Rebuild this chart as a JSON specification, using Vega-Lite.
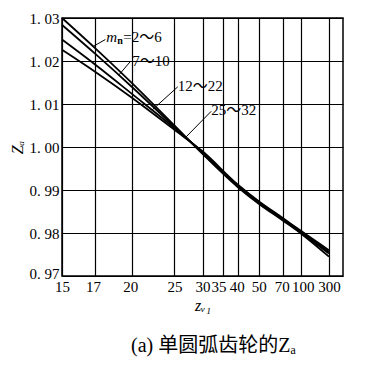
{
  "$schema": "https://vega.github.io/schema/vega-lite/v6.json",
  "width": 281,
  "height": 258,
  "autosize": {"type": "none"},
  "padding": {"left": 62, "top": 18, "right": 25, "bottom": 90},
  "background": "white",
  "config": {
    "view": {"stroke": "black", "strokeWidth": 1.5},
    "font": "Liberation Serif"
  },
  "title": {
    "text": "(a) 单圆弧齿轮的Zₐ",
    "orient": "bottom",
    "anchor": "middle",
    "font": "Liberation Serif, Noto Sans CJK SC",
    "fontSize": 20,
    "fontWeight": "normal",
    "color": "black",
    "offset": 23,
    "dx": 11
  },
  "datasets": {
    "curves": [
      {"series": "2~6", "z": 15, "Za": 1.0300},
      {"series": "2~6", "z": 17, "Za": 1.0230},
      {"series": "2~6", "z": 20, "Za": 1.0148},
      {"series": "2~6", "z": 25, "Za": 1.0050},
      {"series": "2~6", "z": 30, "Za": 0.9984},
      {"series": "2~6", "z": 40, "Za": 0.9907},
      {"series": "2~6", "z": 50, "Za": 0.9868},
      {"series": "2~6", "z": 70, "Za": 0.9829},
      {"series": "2~6", "z": 100, "Za": 0.9799},
      {"series": "2~6", "z": 300, "Za": 0.9745},
      {"series": "7~10", "z": 15, "Za": 1.0284},
      {"series": "7~10", "z": 17, "Za": 1.0217},
      {"series": "7~10", "z": 20, "Za": 1.0139},
      {"series": "7~10", "z": 25, "Za": 1.0047},
      {"series": "7~10", "z": 30, "Za": 0.9986},
      {"series": "7~10", "z": 40, "Za": 0.9909},
      {"series": "7~10", "z": 50, "Za": 0.9870},
      {"series": "7~10", "z": 70, "Za": 0.9831},
      {"series": "7~10", "z": 100, "Za": 0.9801},
      {"series": "7~10", "z": 300, "Za": 0.9752},
      {"series": "12~22", "z": 15, "Za": 1.0250},
      {"series": "12~22", "z": 17, "Za": 1.0192},
      {"series": "12~22", "z": 20, "Za": 1.0123},
      {"series": "12~22", "z": 25, "Za": 1.0044},
      {"series": "12~22", "z": 30, "Za": 0.9988},
      {"series": "12~22", "z": 40, "Za": 0.9911},
      {"series": "12~22", "z": 50, "Za": 0.9872},
      {"series": "12~22", "z": 70, "Za": 0.9833},
      {"series": "12~22", "z": 100, "Za": 0.9803},
      {"series": "12~22", "z": 300, "Za": 0.9756},
      {"series": "25~32", "z": 15, "Za": 1.0226},
      {"series": "25~32", "z": 17, "Za": 1.0175},
      {"series": "25~32", "z": 20, "Za": 1.0114},
      {"series": "25~32", "z": 25, "Za": 1.0040},
      {"series": "25~32", "z": 30, "Za": 0.9990},
      {"series": "25~32", "z": 40, "Za": 0.9913},
      {"series": "25~32", "z": 50, "Za": 0.9874},
      {"series": "25~32", "z": 70, "Za": 0.9835},
      {"series": "25~32", "z": 100, "Za": 0.9805},
      {"series": "25~32", "z": 300, "Za": 0.9760}
    ],
    "labels": [
      {"text": "7～10", "z": 20.0, "Za": 1.0201},
      {"text": "12～22", "z": 25.5, "Za": 1.0143},
      {"text": "25～32", "z": 32.0, "Za": 1.0086}
    ],
    "mlabel": [
      {"m": "m", "n": "n", "rest": "=2～6", "z": 17.8, "Za": 1.0255}
    ],
    "leaders": [
      {"z": 17.74, "Za": 1.0250, "z2": 16.88, "Za2": 1.0234},
      {"z": 19.83, "Za": 1.0199, "z2": 18.79, "Za2": 1.0167},
      {"z": 25.51, "Za": 1.0140, "z2": 22.08, "Za2": 1.0086},
      {"z": 31.98, "Za": 1.0083, "z2": 26.76, "Za2": 1.0022}
    ]
  },
  "encoding": {
    "x": {
      "field": "z",
      "type": "quantitative",
      "scale": {"type": "pow", "exponent": -1, "domain": [15, 1000000], "nice": false, "zero": false},
      "axis": {
        "values": [15, 17, 20, 25, 30, 35, 40, 50, 70, 100, 300],
        "grid": true,
        "gridColor": "black",
        "gridOpacity": 1,
        "gridWidth": 1.2,
        "ticks": false,
        "domain": false,
        "labelFont": "Liberation Serif",
        "labelFontSize": 15,
        "labelColor": "black",
        "labelPadding": 3,
        "labelOverlap": false,
        "labelFlush": false,
        "labelBound": false,
        "labelOffset": {
          "condition": [
            {"test": "datum.value == 35", "value": -4},
            {"test": "datum.value == 17 || datum.value == 20", "value": -2},
            {"test": "datum.value == 40 || datum.value == 70", "value": -1},
            {"test": "datum.value == 100", "value": 2}
          ],
          "value": 0
        },
        "title": "zᵥ₁",
        "titleFont": "Liberation Serif",
        "titleFontSize": 16,
        "titleFontStyle": "italic",
        "titleFontWeight": "normal",
        "titleColor": "black",
        "titlePadding": 3
      }
    },
    "y": {
      "field": "Za",
      "type": "quantitative",
      "scale": {"domain": [0.97, 1.03], "nice": false, "zero": false},
      "axis": {
        "values": [0.97, 0.98, 0.99, 1.0, 1.01, 1.02, 1.03],
        "labelExpr": "replace(format(datum.value, '.2f'), '.', '. ')",
        "grid": true,
        "gridColor": "black",
        "gridOpacity": 1,
        "gridWidth": 1.2,
        "ticks": false,
        "domain": false,
        "labelFont": "Liberation Serif",
        "labelFontSize": 15,
        "labelColor": "black",
        "labelPadding": 3,
        "labelOverlap": false,
        "labelFlush": false,
        "labelBound": false,
        "labelOffset": {
          "condition": {"test": "abs(datum.value - 0.97) < 0.001", "value": -3},
          "value": 0
        },
        "title": "Zₐ",
        "titleFont": "Liberation Serif",
        "titleFontSize": 16,
        "titleFontStyle": "italic",
        "titleFontWeight": "normal",
        "titleColor": "black",
        "titlePadding": 4
      }
    }
  },
  "layer": [
    {
      "data": {"name": "curves"},
      "mark": {"type": "line", "color": "black", "strokeWidth": 1.8, "interpolate": "monotone"},
      "encoding": {
        "detail": {"field": "series"}
      }
    },
    {
      "data": {"name": "leaders"},
      "mark": {"type": "rule", "color": "black", "strokeWidth": 1},
      "encoding": {
        "x2": {"field": "z2"},
        "y2": {"field": "Za2"}
      }
    },
    {
      "data": {"name": "labels"},
      "mark": {"type": "text", "align": "left", "baseline": "middle", "font": "Liberation Serif, Noto Sans CJK SC", "fontSize": 15, "color": "black"},
      "encoding": {
        "text": {"field": "text"}
      }
    },
    {
      "data": {"name": "mlabel"},
      "mark": {"type": "text", "align": "left", "baseline": "middle", "font": "Liberation Serif", "fontStyle": "italic", "fontSize": 15, "color": "black"},
      "encoding": {
        "text": {"field": "m"}
      }
    },
    {
      "data": {"name": "mlabel"},
      "mark": {"type": "text", "align": "left", "baseline": "middle", "font": "Liberation Serif", "fontWeight": "bold", "fontSize": 10, "color": "black", "dx": 11, "dy": 4},
      "encoding": {
        "text": {"field": "n"}
      }
    },
    {
      "data": {"name": "mlabel"},
      "mark": {"type": "text", "align": "left", "baseline": "middle", "font": "Liberation Serif, Noto Sans CJK SC", "fontSize": 15, "color": "black", "dx": 17},
      "encoding": {
        "text": {"field": "rest"}
      }
    }
  ]
}
